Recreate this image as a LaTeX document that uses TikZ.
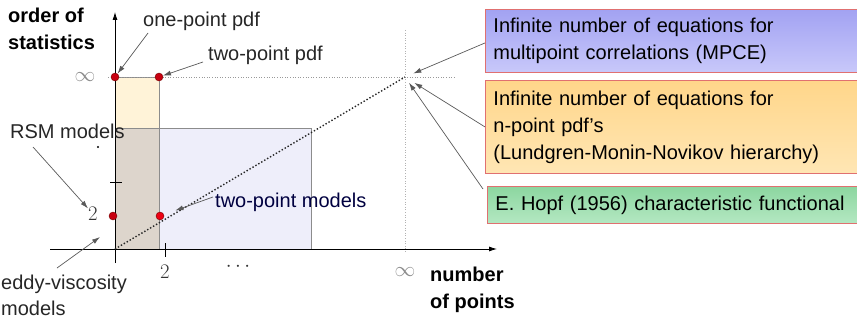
\documentclass[tikz,border=0pt]{standalone}
\usepackage{fontspec}
\setmainfont{Liberation Sans}
\usetikzlibrary{arrows.meta,positioning}

\definecolor{pdfyellow}{HTML}{FFF3D8}
\definecolor{modlav}{HTML}{EEEEFA}
\definecolor{modtan}{HTML}{DDD5CC}
\definecolor{dotred}{HTML}{C80010}
\definecolor{boxedge}{HTML}{E07070}
\definecolor{bluetop}{HTML}{A2A2F2}
\definecolor{bluebot}{HTML}{C8C8FA}
\definecolor{orangetop}{HTML}{FFD68A}
\definecolor{orangebot}{HTML}{FFE6B4}
\definecolor{greentop}{HTML}{8CD6A0}
\definecolor{greenbot}{HTML}{B4E8C2}

\begin{document}
\begin{tikzpicture}[
  x=1pt, y=-1pt,
  every node/.style={font=\fontsize{20}{27}\selectfont, inner sep=0pt},
  lbl/.style={anchor=base west, align=left, text=black!85},
  axlbl/.style={anchor=base west, align=left, font=\fontsize{20}{27}\selectfont\bfseries},
  mathlbl/.style={font=\fontsize{21}{24}\selectfont, text=black!80},
  ptr/.style={-{Latex[length=8pt,width=5pt]}, black!65, line width=0.7pt},
  pdot/.style={circle, fill=dotred, draw=red!45!black, line width=0.4pt, minimum size=8pt},
  eqbox/.style={draw=boxedge, line width=0.9pt, anchor=north west, align=left,
    minimum width=372pt, text width=356pt, inner xsep=8pt}
]
  \useasboundingbox (0,0) rectangle (857,321);

  % --- Bereiche ---
  \fill[pdfyellow] (115,77) rectangle (159,249);
  \fill[modlav] (115,128) rectangle (311,249);
  \fill[modtan] (115,128) rectangle (159,249);
  \draw[black!45, line width=0.6pt] (115,77) rectangle (159,249);
  \draw[black!45, line width=0.6pt] (115,128) rectangle (311,249);

  % Hilfslinien bei unendlich
  \coordinate (inf) at (405,77);
  \draw[black!40, dotted, line width=0.6pt] (108,77) -- (455,77);
  \draw[black!30, dotted, line width=0.6pt] (405,30) -- (405,253);

  % --- Achsen ---
  \coordinate (O) at (115,249);
  \draw[black, line width=0.8pt, -{Latex[length=8pt,width=5pt]}] (50,249) -- (497,249);
  \draw[black, line width=0.8pt, -{Latex[length=8pt,width=5pt]}] (115,263) -- (115,12);
  \draw[black, line width=0.8pt] (110,182) -- (122,182);
  \draw[black, line width=0.8pt] (165,243) -- (165,257);
  \fill[black] (98,147) circle (1.2pt);

  \draw[black!85, dotted, line width=1.4pt] (O) -- (inf);

  \node (yinf) [mathlbl, text=black!45] at (85,77) {$\infty$};
  \node (ytwo) [mathlbl] at (93,214) {$2$};
  \node (xtwo) [mathlbl] at (165,272) {$2$};
  \node (xdots) [mathlbl] at (238,267) {$\cdots$};
  \node (xinf) [mathlbl, text=black!45] at (405,272) {$\infty$};

  \node (ordst) [axlbl] at (8,50) {order of\\statistics};
  \node (numpts) [axlbl] at (430,308) {number\\of points};

  % --- Punkte ---
  \node (d1) [pdot] at (115,77) {};
  \node (d2) [pdot] at (159,77) {};
  \node (d3) [pdot] at (113,216) {};
  \node (d4) [pdot, fill=red!70!purple] at (160,216) {};

  % --- Beschriftungen ---
  \node (onept) [lbl] at (143,27) {one-point pdf};
  \node (twopt) [lbl] at (208,60) {two-point pdf};
  \node (rsm) [lbl] at (10,138) {RSM models};
  \node (tpm) [lbl, text=blue!25!black] at (215,207) {two-point models};
  \node (eddy) [lbl, font=\fontsize{20}{26}\selectfont] at (1,315) {eddy-viscosity\\models};

  \draw[ptr] ([xshift=5pt,yshift=-6pt]onept.base west) -- (d1);
  \draw[ptr] ([xshift=-5pt,yshift=-2pt]twopt.base west) -- (d2);
  \draw[ptr] ([xshift=23pt,yshift=-9pt]rsm.base west) -- (ytwo);
  \draw[ptr, shorten >=12pt] ([xshift=-2pt,yshift=10pt]tpm.base west) -- (d4);
  \draw[ptr] ([xshift=56pt,yshift=47pt]eddy.base west) -- (100,237);

  % --- Gleichungssysteme ---
  \node (mpce) [eqbox, minimum height=63pt, top color=bluetop, bottom color=bluebot]
    at (485,9) {Infinite number of equations for\\multipoint correlations (MPCE)};
  \node (lmn) [eqbox, minimum height=93pt, top color=orangetop, bottom color=orangebot]
    at (485,80) {Infinite number of equations for\\n-point pdf's\\(Lundgren-Monin-Novikov hierarchy)};
  \node (hopf) [eqbox, minimum height=37pt, minimum width=369pt, top color=greentop, bottom color=greenbot]
    at (487,186) {E. Hopf (1956) characteristic functional};

  \draw[ptr, shorten >=9pt] ([yshift=-2pt]mpce.west) -- (inf);
  \draw[ptr, shorten >=11pt] (lmn.west) -- (inf);
  \draw[ptr, shorten >=7pt] ([xshift=-4pt,yshift=-3pt]hopf.north west) -- (inf);
\end{tikzpicture}
\end{document}
